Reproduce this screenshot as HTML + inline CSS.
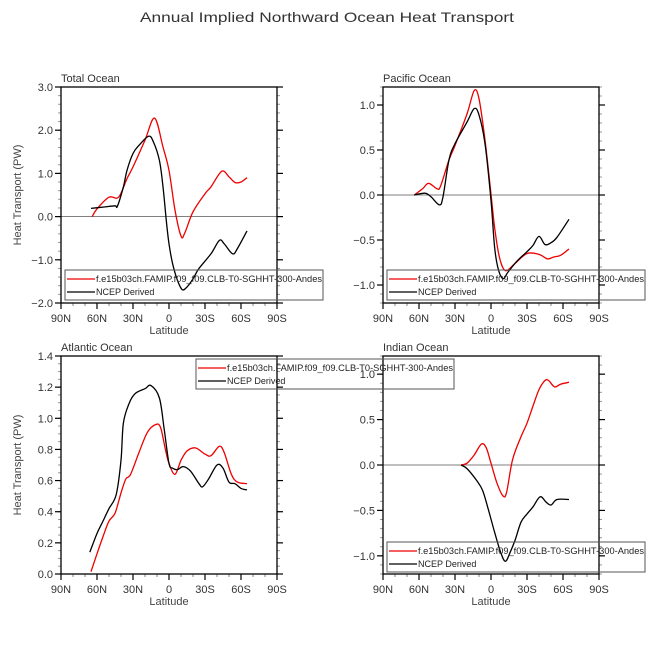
<!DOCTYPE html>
<html><head><meta charset="utf-8"><style>
html,body{margin:0;padding:0;background:#fff}
svg{display:block;font-family:"Liberation Sans",sans-serif}
</style></head><body>
<svg id="c" width="654" height="655" viewBox="0 0 654 655">
<text x="327" y="22" text-anchor="middle" font-size="14" fill="#333" textLength="374" lengthAdjust="spacingAndGlyphs">Annual Implied Northward Ocean Heat Transport</text>
</svg>
<script>
const latTicks=[90,60,30,0,-30,-60,-90];
const latLabels=["90N","60N","30N","0","30S","60S","90S"];
const legendLabels=["f.e15b03ch.FAMIP.f09_f09.CLB-T0-SGHHT-300-Andes","NCEP Derived"];
const titles=["Total Ocean","Pacific Ocean","Atlantic Ocean","Indian Ocean"];
const totalRedLat=[64,60,50,42,35,30,20,12,5,0,-5,-10,-13,-20,-30,-35,-44,-50,-55,-60,-65];
const totalRedVal=[0,0.18,0.45,0.45,0.88,1.15,1.77,2.28,1.61,1.07,0.15,-0.45,-0.39,0.11,0.53,0.69,1.05,0.92,0.79,0.8,0.9];
const totalBlkLat=[65,55,45,43,38,35,30,25,17,13,8,5,2,0,-3,-7,-11,-15,-20,-25,-35,-42,-46,-53,-57,-65];
const totalBlkVal=[0.19,0.22,0.25,0.24,0.69,1.07,1.46,1.65,1.86,1.73,1.3,0.69,-0.16,-0.63,-1.09,-1.47,-1.69,-1.63,-1.44,-1.2,-0.86,-0.55,-0.63,-0.86,-0.74,-0.33];
const pacRedLat=[64,57,52,45,42,35,30,20,14,10,5,0,-3,-7,-12,-20,-30,-40,-47,-52,-58,-65];
const pacRedVal=[0,0.07,0.13,0.07,0.1,0.39,0.55,0.9,1.16,1.07,0.61,0.01,-0.36,-0.69,-0.84,-0.76,-0.65,-0.66,-0.71,-0.69,-0.67,-0.6];
const pacBlkLat=[64,55,50,43,40,35,30,20,14,10,5,0,-3,-6,-10,-14,-22,-30,-35,-40,-45,-50,-55,-65];
const pacBlkVal=[0,0.02,-0.02,-0.11,-0.02,0.39,0.57,0.81,0.96,0.89,0.57,-0.06,-0.58,-0.82,-0.93,-0.86,-0.73,-0.63,-0.56,-0.46,-0.55,-0.53,-0.47,-0.27];
const atlRedLat=[65,60,55,50,45,40,36,32,25,18,11,7,3,0,-5,-10,-15,-22,-30,-35,-42,-46,-52,-57,-65];
const atlRedVal=[0.015,0.13,0.24,0.34,0.39,0.52,0.61,0.64,0.78,0.91,0.96,0.94,0.8,0.71,0.64,0.73,0.79,0.81,0.77,0.76,0.82,0.78,0.64,0.59,0.58];
const atlBlkLat=[66,60,55,50,44,40,38,33,28,20,15,8,4,0,-3,-7,-12,-18,-25,-28,-33,-40,-45,-50,-55,-60,-65];
const atlBlkVal=[0.14,0.26,0.34,0.42,0.51,0.73,0.97,1.1,1.16,1.19,1.21,1.13,0.93,0.71,0.68,0.67,0.69,0.66,0.58,0.56,0.61,0.7,0.68,0.59,0.58,0.55,0.54];
const indRedLat=[25,20,14,8,4,0,-5,-10,-13,-18,-25,-30,-35,-40,-45,-48,-53,-58,-65];
const indRedVal=[0,0.02,0.11,0.23,0.19,0.02,-0.2,-0.34,-0.3,0.06,0.31,0.46,0.65,0.83,0.93,0.93,0.86,0.89,0.91];
const indBlkLat=[25,20,12,7,2,-3,-8,-12,-16,-20,-25,-30,-35,-41,-46,-50,-55,-65];
const indBlkVal=[0,-0.04,-0.17,-0.28,-0.5,-0.74,-0.96,-1.06,-0.96,-0.83,-0.63,-0.54,-0.46,-0.35,-0.41,-0.44,-0.38,-0.38];
const yTicksTotal=[3,2,1,0,-1,-2];const yLabTotal=["3.0","2.0","1.0","0.0","\u22121.0","\u22122.0"];
const yTicksPm=[1,0.5,0,-0.5,-1];const yLabPm=["1.0","0.5","0.0","\u22120.5","\u22121.0"];
const yTicksAtl=[1.4,1.2,1,0.8,0.6,0.4,0.2,0];const yLabAtl=["1.4","1.2","1.0","0.8","0.6","0.4","0.2","0.0"];

const svg=document.getElementById('c');const NS='http://www.w3.org/2000/svg';
function mk(t,a,p){const e=document.createElementNS(NS,t);for(const k in a)e.setAttribute(k,a[k]);(p||svg).appendChild(e);return e;}
function smooth(pts){let d='M'+pts[0][0].toFixed(1)+','+pts[0][1].toFixed(1);
 for(let i=0;i<pts.length-1;i++){const p0=pts[i-1]||pts[i],p1=pts[i],p2=pts[i+1],p3=pts[i+2]||p2;
  const c1=[p1[0]+(p2[0]-p0[0])/6,p1[1]+(p2[1]-p0[1])/6],c2=[p2[0]-(p3[0]-p1[0])/6,p2[1]-(p3[1]-p1[1])/6];
  d+=' C'+c1[0].toFixed(1)+','+c1[1].toFixed(1)+' '+c2[0].toFixed(1)+','+c2[1].toFixed(1)+' '+p2[0].toFixed(1)+','+p2[1].toFixed(1);}
 return d;}
function panel(o){
 const g=mk('g',{});
 const L=o.x0,R=o.x0+216,T=o.y0,B=o.y1;
 const X=lat=>L+(90-lat)*1.2;const Y=v=>B-(v-o.ymin)/(o.ymax-o.ymin)*(B-T);
 if(o.ymin<0){const z=mk('line',{x1:L,x2:R,y1:Y(0),y2:Y(0),stroke:'#555','stroke-width':0.8},g);}
 for(let v=o.ymin;v<=o.ymax+1e-9;v+=o.minor){mk('line',{x1:L-3,x2:L,y1:Y(v),y2:Y(v),stroke:'#999','stroke-width':1},g);mk('line',{x1:R,x2:R+3,y1:Y(v),y2:Y(v),stroke:'#999','stroke-width':1},g);}
 o.yt.forEach((v,i)=>{mk('line',{x1:L-6,x2:L,y1:Y(v),y2:Y(v),stroke:'#000','stroke-width':1.2},g);mk('line',{x1:R,x2:R+6,y1:Y(v),y2:Y(v),stroke:'#000','stroke-width':1.2},g);
  const t=mk('text',{x:L-8,y:Y(v)+4,'text-anchor':'end','font-size':11,fill:'#333'},g);t.textContent=o.yl[i];});
 for(let lat=90;lat>=-90;lat-=10){const mj=lat%30===0;mk('line',{x1:X(lat),x2:X(lat),y1:B,y2:B+(mj?6:3),stroke:mj?'#000':'#999','stroke-width':1.2},g);}
 latTicks.forEach((lat,i)=>{const t=mk('text',{x:X(lat),y:B+19,'text-anchor':'middle','font-size':11,fill:'#333'},g);t.textContent=latLabels[i];});
 const xt=mk('text',{x:(L+R)/2,y:B+31,'text-anchor':'middle','font-size':11,fill:'#444'},g);xt.textContent='Latitude';
 if(o.ylab){const yt=mk('text',{x:0,y:0,'text-anchor':'middle','font-size':11,fill:'#444',transform:'translate('+(L-40)+','+((T+B)/2)+') rotate(-90)'},g);yt.textContent='Heat Transport (PW)';}
 const tt=mk('text',{x:L,y:T-5,'font-size':11,fill:'#333'},g);tt.textContent=o.title;
 const rd=mk('path',{d:smooth(o.rl.map((l,i)=>[X(l),Y(o.rv[i])])),fill:'none',stroke:'#e00','stroke-width':1.3},g);
 const bk=mk('path',{d:smooth(o.bl.map((l,i)=>[X(l),Y(o.bv[i])])),fill:'none',stroke:'#000','stroke-width':1.3},g);
 mk('rect',{x:L,y:T,width:216,height:B-T,fill:'none',stroke:'#000','stroke-width':1.3},g);
 const lg=mk('g',{},g);
 mk('rect',{x:o.lx,y:o.ly,width:258,height:30,fill:'none',stroke:'#555','stroke-width':1},lg);
 mk('line',{x1:o.lx+2,x2:o.lx+30,y1:o.ly+9,y2:o.ly+9,stroke:'#e00','stroke-width':1.3},lg);
 mk('line',{x1:o.lx+2,x2:o.lx+30,y1:o.ly+22,y2:o.ly+22,stroke:'#000','stroke-width':1.3},lg);
 legendLabels.forEach((s,i)=>{const t=mk('text',{x:o.lx+31,y:o.ly+12+i*13,'font-size':9,fill:'#222'},lg);t.textContent=s;if(i===0){t.setAttribute('textLength',226);t.setAttribute('lengthAdjust','spacingAndGlyphs');}});
}
panel({name:'total-ocean-panel',title:titles[0],x0:61,y0:87,y1:303,ymin:-2,ymax:3,minor:0.2,yt:yTicksTotal,yl:yLabTotal,ylab:true,rl:totalRedLat,rv:totalRedVal,bl:totalBlkLat,bv:totalBlkVal,lx:65,ly:270});
panel({name:'pacific-ocean-panel',title:titles[1],x0:383,y0:87,y1:303,ymin:-1.2,ymax:1.2,minor:0.1,yt:yTicksPm,yl:yLabPm,ylab:false,rl:pacRedLat,rv:pacRedVal,bl:pacBlkLat,bv:pacBlkVal,lx:387,ly:270});
panel({name:'indian-ocean-panel',title:titles[3],x0:383,y0:356,y1:574,ymin:-1.2,ymax:1.2,minor:0.1,yt:yTicksPm,yl:yLabPm,ylab:false,rl:indRedLat,rv:indRedVal,bl:indBlkLat,bv:indBlkVal,lx:387,ly:542});
panel({name:'atlantic-ocean-panel',title:titles[2],x0:61,y0:356,y1:574,ymin:0,ymax:1.4,minor:0.05,yt:yTicksAtl,yl:yLabAtl,ylab:true,rl:atlRedLat,rv:atlRedVal,bl:atlBlkLat,bv:atlBlkVal,lx:196,ly:359});
</script>
</body></html>
